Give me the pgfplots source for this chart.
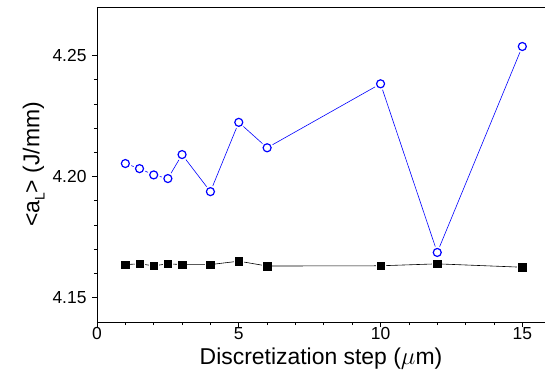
\documentclass[border=0pt]{standalone}
\usepackage{fontspec}
\setmainfont{Liberation Sans}
\usepackage{pgfplots}
\pgfplotsset{compat=1.18}
\begin{document}
\begin{tikzpicture}
\begin{axis}[
  scale only axis,
  width=448bp, height=315bp,
  xmin=0, xmax=15.8,
  ymin=4.14, ymax=4.27,
  axis x line*=bottom, axis y line*=left,
  axis line style={line width=0.9pt, -},
  tick align=outside,
  xtick={0,5,10,15},
  minor x tick num=4,
  ytick={4.15,4.20,4.25},
  minor y tick num=4,
  major tick length=5bp, minor tick length=3bp,
  tick style={line width=0.7pt, black},
  /pgf/number format/assume math mode=true,
  yticklabel style={/pgf/number format/fixed, /pgf/number format/fixed zerofill, /pgf/number format/precision=2, xshift=-2bp},
  xticklabel style={yshift=3bp},
  ticklabel style={font=\fontsize{17.5}{20}\selectfont},
  xlabel={Discretization step ($\mu$m)},
  ylabel={<a\raisebox{-0.45ex}{\fontsize{14}{14}\selectfont L}> (J/mm)},
  label style={font=\fontsize{23}{27}\selectfont},
  xlabel style={yshift=-1bp},
  ylabel style={yshift=1bp},
  clip=false,
]
\coordinate (sw) at (rel axis cs:0,0);
\coordinate (ne) at (rel axis cs:1,1);
\draw[line width=0.9pt] (rel axis cs:0,1) -- (rel axis cs:1,1);
% black squares
\addplot[black, line width=0.6pt, mark=square*, mark size=4.4bp,
  mark options={draw=white, fill=black, line width=1.2pt}] coordinates {
  (1,4.1637) (1.5,4.1640) (2,4.1632) (2.5,4.1640) (3,4.1637) (4,4.1637)
  (5,4.1651) (6,4.1631) (10,4.1632) (12,4.1640) (15,4.1626)};
\addplot[only marks, black, mark=square*, mark size=3.8bp,
  mark options={fill=black}] coordinates {
  (1,4.1637) (1.5,4.1640) (2,4.1632) (2.5,4.1640) (3,4.1637) (4,4.1637)
  (5,4.1651) (6,4.1631) (10,4.1632) (12,4.1640) (15,4.1626)};
% blue circles
\addplot[blue, line width=0.6pt, mark=*, mark size=5.9bp,
  mark options={draw=white, fill=white}] coordinates {
  (1,4.2054) (1.5,4.2033) (2,4.2007) (2.5,4.1992) (3,4.2091) (4,4.1938)
  (5,4.2224) (6,4.2119) (10,4.2383) (12,4.1687) (15,4.2537)};
\addplot[only marks, blue, mark=o, mark size=4bp,
  mark options={line width=1.2pt, fill=white}] coordinates {
  (1,4.2054) (1.5,4.2033) (2,4.2007) (2.5,4.1992) (3,4.2091) (4,4.1938)
  (5,4.2224) (6,4.2119) (10,4.2383) (12,4.1687) (15,4.2537)};
\end{axis}
\pgfresetboundingbox
\path ([shift={(-97bp,-58bp)}]sw) rectangle ([shift={(0bp,7bp)}]ne);
\end{tikzpicture}
\end{document}
